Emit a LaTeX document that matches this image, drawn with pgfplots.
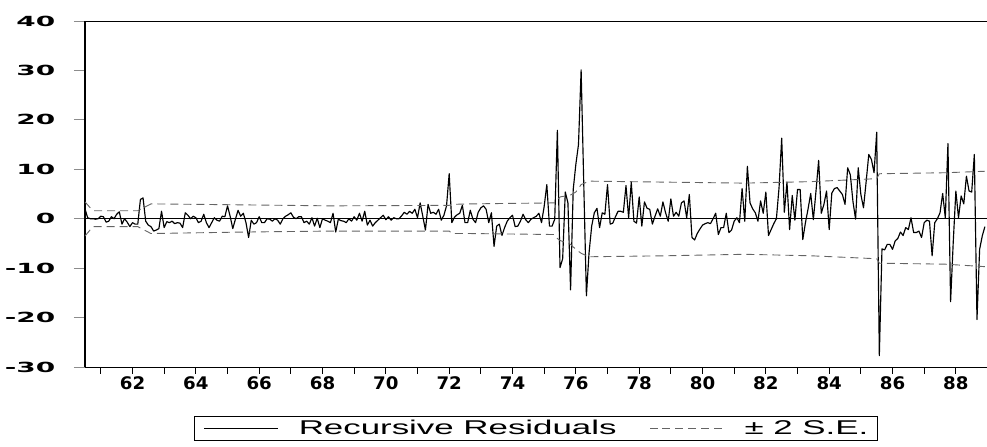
\documentclass[border=0pt]{standalone}
\usepackage{fontspec}
\setmainfont{Liberation Sans}
\newfontfamily\xtickfont{DejaVu Sans}[FakeStretch=1.05]
\newfontfamily\ytickfont{DejaVu Sans}[FakeStretch=2.0]
\newfontfamily\legfont{Liberation Sans}[FakeStretch=1.75]
\usepackage{pgfplots}
\pgfplotsset{compat=1.18}

\definecolor{bandgray}{RGB}{100,100,100}

\begin{document}
\begin{tikzpicture}
\begin{axis}[
    name=main,
    scale only axis,
    width=902bp, height=346bp,
    xmin=0, xmax=341.8,
    ymin=-30, ymax=40,
    axis x line=box,
    axis y line=left,
    axis line style={-},
    x axis line style={black, line width=0.9bp},
    y axis line style={black, line width=1.4bp},
    tick align=outside,
    xtick={6,18,...,330},
    xticklabels={,62,,64,,66,,68,,70,,72,,74,,76,,78,,80,,82,,84,,86,,88},
    xtick pos=left,
    ytick pos=left,
    x tick style={black, line width=0.9bp, /pgfplots/major tick length=7bp},
    ytick={-30,-20,...,40},
    yticklabels={-30,-20,-10,0,10,20,30,40},
    y tick style={black!45, line width=0.9bp, /pgfplots/major tick length=11bp},
    x tick label style={font=\xtickfont\bfseries\fontsize{17.4}{17.4}\selectfont, yshift=-2bp},
    y tick label style={font=\ytickfont\bfseries\fontsize{14}{14}\selectfont, xshift=-22bp},
    legend columns=2,
    legend image code/.code={\path (0bp,0bp) -- (12bp,0bp); \draw[#1] (12bp,0bp) -- (74bp,0bp);},
    legend style={at={(axis description cs:0.5,0)}, anchor=north, yshift=-49bp,
        draw=black, line width=0.8bp, inner xsep=9bp, inner ysep=3bp,
        font=\legfont\fontsize{20}{20}\selectfont,
        nodes={inner xsep=0bp, inner ysep=1bp},
        /tikz/every odd column/.append style={column sep=20bp},
        /tikz/every even column/.append style={column sep=33bp}},
]
% recursive residuals, one value per month from 1960M07
\addplot[black, line width=1.15bp, line join=round] coordinates {
(0,2.0)(1,0.2)(2,0.0)(3,0.0)(4,-0.1)(5,0.0)(6,0.5)(7,0.4)(8,-0.7)(9,-0.5)
(10,0.4)(11,0.0)(12,0.9)(13,1.4)(14,-1.1)(15,0.0)(16,-0.7)(17,-1.6)(18,-0.8)(19,-1.1)
(20,-1.1)(21,3.9)(22,4.2)(23,-0.5)(24,-1.3)(25,-1.6)(26,-2.5)(27,-2.3)(28,-2.0)(29,1.5)
(30,-1.8)(31,-0.6)(32,-0.8)(33,-0.5)(34,-1.0)(35,-0.8)(36,-0.9)(37,-1.8)(38,1.2)(39,0.7)
(40,0.0)(41,0.5)(42,0.2)(43,-0.8)(44,-0.5)(45,0.9)(46,-0.8)(47,-1.8)(48,-0.8)(49,0.2)
(50,-0.3)(51,-0.5)(52,0.5)(53,0.4)(54,2.6)(55,0.5)(56,-2.0)(57,-0.1)(58,1.7)(59,0.5)
(60,1.1)(61,-0.8)(62,-3.8)(63,-0.3)(64,-1.1)(65,-0.8)(66,0.4)(67,-0.8)(68,-0.8)(69,0.0)
(70,-0.1)(71,-0.5)(72,0.0)(73,-0.3)(74,-1.1)(75,0.0)(76,0.5)(77,0.8)(78,1.2)(79,0.3)
(80,0.0)(81,0.4)(82,0.4)(83,-0.8)(84,-0.5)(85,-1.1)(86,0.2)(87,-1.5)(88,0.1)(89,-1.8)
(90,0.0)(91,-0.3)(92,-0.5)(93,-0.8)(94,1.1)(95,-2.7)(96,-0.1)(97,-0.4)(98,-0.5)(99,-0.8)
(100,0.0)(101,-0.5)(102,0.4)(103,-0.3)(104,1.1)(105,-0.5)(106,1.5)(107,-1.3)(108,-0.3)(109,-1.5)
(110,-0.8)(111,-0.3)(112,0.2)(113,0.7)(114,-0.2)(115,0.4)(116,-0.3)(117,0.2)(118,0.0)(119,0.0)
(120,0.6)(121,1.3)(122,0.9)(123,1.5)(124,1.1)(125,1.9)(126,0.2)(127,3.2)(128,0.5)(129,-2.3)
(130,2.9)(131,1.1)(132,1.3)(133,0.9)(134,1.9)(135,-0.3)(136,0.7)(137,2.6)(138,9.1)(139,-0.8)
(140,0.3)(141,0.8)(142,1.1)(143,2.7)(144,-0.8)(145,-0.8)(146,1.7)(147,-0.1)(148,-0.8)(149,1.3)
(150,2.2)(151,2.6)(152,1.9)(153,-0.8)(154,1.2)(155,-5.6)(156,-1.5)(157,-1.1)(158,-3.4)(159,-1.8)
(160,-0.5)(161,0.2)(162,0.7)(163,-1.6)(164,-1.5)(165,-0.5)(166,0.9)(167,-0.2)(168,-0.8)(169,-0.1)
(170,0.2)(171,0.5)(172,1.1)(173,-0.8)(174,2.5)(175,6.9)(176,-1.5)(177,-1.5)(178,-0.1)(179,17.9)
(180,-9.9)(181,-8.1)(182,5.4)(183,3.2)(184,-14.4)(185,5.9)(186,11.0)(187,15.0)(188,30.1)(189,7.0)
(190,-15.6)(191,-6.9)(192,-1.5)(193,1.2)(194,2.1)(195,-1.8)(196,1.2)(197,0.9)(198,6.9)(199,-1.1)
(200,-0.9)(201,0.4)(202,1.5)(203,1.5)(204,1.3)(205,6.7)(206,0.2)(207,7.4)(208,-0.5)(209,-0.9)
(210,4.4)(211,-1.5)(212,3.4)(213,2.1)(214,1.9)(215,-1.1)(216,0.5)(217,2.0)(218,0.5)(219,3.4)
(220,1.2)(221,-0.5)(222,4.0)(223,0.5)(224,1.3)(225,0.5)(226,3.2)(227,3.6)(228,0.2)(229,4.9)
(230,-3.8)(231,-4.3)(232,-3.0)(233,-2.1)(234,-1.3)(235,-1.0)(236,-0.8)(237,-1.0)(238,0.0)(239,1.1)
(240,-3.2)(241,-1.8)(242,-1.8)(243,1.1)(244,-2.8)(245,-2.3)(246,-0.5)(247,0.2)(248,-0.8)(249,6.1)
(250,-0.5)(251,10.6)(252,3.2)(253,2.0)(254,1.2)(255,-0.5)(256,3.6)(257,1.1)(258,5.4)(259,-3.4)
(260,-2.2)(261,-1.0)(262,0.0)(263,6.3)(264,16.3)(265,1.3)(266,7.4)(267,-2.2)(268,4.7)(269,-0.3)
(270,5.9)(271,5.9)(272,-4.2)(273,-0.8)(274,2.0)(275,5.1)(276,-0.2)(277,5.6)(278,11.8)(279,1.1)
(280,2.9)(281,5.6)(282,-2.2)(283,5.2)(284,6.1)(285,6.3)(286,5.6)(287,4.9)(288,2.9)(289,10.3)
(290,8.9)(291,3.5)(292,-0.1)(293,10.3)(294,4.9)(295,2.2)(296,7.5)(297,13.0)(298,12.0)(299,9.3)
(300,17.5)(301,-27.7)(302,-6.1)(303,-6.3)(304,-5.2)(305,-5.2)(306,-6.2)(307,-4.5)(308,-4.0)(309,-2.7)
(310,-3.4)(311,-1.8)(312,-2.2)(313,0.2)(314,-2.8)(315,-2.8)(316,-2.5)(317,-3.8)(318,-0.8)(319,-0.3)
(320,-0.5)(321,-7.5)(322,-0.8)(323,0.0)(324,1.2)(325,5.1)(326,0.2)(327,15.2)(328,-16.8)(329,-4.8)
(330,5.6)(331,0.2)(332,4.6)(333,3.0)(334,8.6)(335,5.6)(336,5.4)(337,13.0)(338,-20.4)(339,-6.2)
(340,-3.5)(341,-1.6)
};
\addlegendentry{Recursive Residuals}
% +/- 2 standard error bands
\addplot[bandgray, line width=0.9bp, dash pattern=on 8bp off 5bp] coordinates {
(0,3.4)(3,1.6)(20,1.6)(25,3.0)(60,2.8)(93,2.6)(138,2.7)(139,2.9)(146,3.0)(178,3.2)
(179,3.9)(180,4.4)(184,4.8)(186,5.4)(188,6.9)(191,7.6)(220,7.4)(250,7.2)(275,7.5)(300,8.1)
(301,9.1)(326,9.3)(341,9.6)
};
\addlegendentry{± 2 S.E.}
\addplot[bandgray, line width=0.9bp, dash pattern=on 8bp off 5bp, forget plot] coordinates {
(0,-3.5)(3,-1.6)(20,-1.6)(25,-3.0)(60,-2.7)(93,-2.5)(138,-2.5)(139,-3.0)(146,-3.0)(178,-3.2)
(179,-4.0)(180,-4.4)(184,-5.2)(186,-6.2)(188,-7.0)(191,-7.7)(220,-7.5)(250,-7.2)(275,-7.5)(300,-8.1)
(301,-9.0)(326,-9.2)(341,-9.7)
};
% zero line
\addplot[black, line width=0.8bp, forget plot] coordinates {(0,0)(341.8,0)};
\end{axis}
\pgfresetboundingbox
\path[use as bounding box] ([xshift=-85bp,yshift=-80bp]main.south west) rectangle ([yshift=21bp]main.north east);
\end{tikzpicture}
\end{document}
